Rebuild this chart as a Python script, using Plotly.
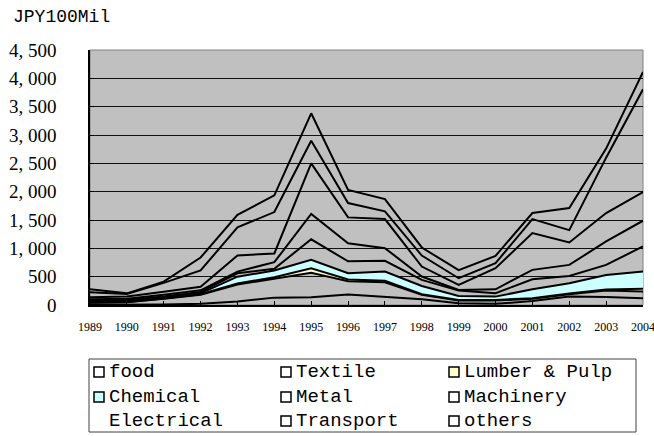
import plotly.graph_objects as go

years = list(range(1989, 2005))
year_labels = [str(y) for y in years]

# stacked values (JPY 100 million), bottom to top
food       = [5, 5, 10, 20, 60, 130, 136, 185, 140, 100, 30, 20, 70, 150, 140, 120]
textile    = [35, 45, 100, 160, 300, 340, 434, 235, 260, 80, 50, 60, 40, 40, 115, 120]
lumber     = [5, 5, 5, 10, 20, 20, 78, 30, 30, 10, 10, 10, 10, 15, 20, 45]
chemical   = [15, 15, 15, 16, 120, 118, 149, 110, 160, 146, 69, 58, 157, 179, 256, 305]
metal      = [20, 20, 20, 24, 60, 32, 363, 210, 189, 107, 95, 59, 177, 129, 177, 443]
machinery  = [20, 20, 30, 30, 30, 115, 446, 320, 224, 59, 12, 70, 166, 195, 413, 454]
electrical = [36, 40, 55, 63, 283, 154, 894, 456, 513, 177, 88, 372, 649, 395, 502, 507]
transport  = [88, 45, 155, 287, 496, 731, 400, 254, 136, 194, 118, 89, 247, 219, 977, 1812]
others     = [53, 11, 21, 228, 221, 295, 483, 230, 218, 142, 142, 129, 107, 389, 160, 306]

y_ticks = [0, 500, 1000, 1500, 2000, 2500, 3000, 3500, 4000, 4500]
y_ticklabels = ["0", "500", "1, 000", "1, 500", "2, 000", "2, 500", "3, 000", "3, 500", "4, 000", "4, 500"]

names = ["food", "Textile", "Lumber & Pulp", "Chemical", "Metal", "Machinery",
         "Electrical", "Transport", "others"]
values = [food, textile, lumber, chemical, metal, machinery, electrical, transport, others]
CLEAR = "rgba(0,0,0,0)"
fills = [CLEAR, CLEAR, "#FFFFCC", "#CCFFFF", CLEAR, CLEAR, CLEAR, CLEAR, CLEAR]
legend_marker = ["#FFFFFF", "#FFFFFF", "#FFFFCC", "#CCFFFF", "#FFFFFF", "#FFFFFF",
                 None, "#FFFFFF", "#FFFFFF"]

fig = go.Figure()
for n, v, fc in zip(names, values, fills):
    fig.add_trace(go.Scatter(
        x=years, y=v, name=n, stackgroup="one", mode="lines",
        line=dict(color="black", width=2), fillcolor=fc, showlegend=False,
    ))

# pixel -> paper helpers for the hand-drawn legend
L, R, T, B = 90, 643, 50, 305
def xp(px):
    return (px - L) / (R - L)
def yp(py):
    return (B - py) / (B - T)

shapes = [
    dict(type="rect", xref="paper", yref="paper", x0=0, x1=1, y0=0, y1=1,
         line=dict(color="#808080", width=1), layer="below"),
    dict(type="rect", xref="paper", yref="paper", x0=xp(89), x1=xp(636),
         y0=yp(432), y1=yp(359), line=dict(color="#404040", width=1),
         fillcolor="white", layer="below"),
]
annotations = [
    dict(text="JPY100Mil", xref="paper", yref="paper", x=xp(11), y=yp(17),
         xanchor="left", yanchor="middle", showarrow=False,
         font=dict(family="Liberation Mono", size=18, color="black")),
]
col_marker = [94, 281, 449]
col_text = [107, 294, 462]
row_y = [372, 397, 421]
for i, (n, mc) in enumerate(zip(names, legend_marker)):
    r, c = divmod(i, 3)
    cy = row_y[r]
    if mc is not None:
        shapes.append(dict(type="rect", xref="paper", yref="paper",
                           x0=xp(col_marker[c]), x1=xp(col_marker[c] + 10),
                           y0=yp(cy + 5), y1=yp(cy - 5),
                           line=dict(color="black", width=1.5), fillcolor=mc))
    annotations.append(dict(text=n, xref="paper", yref="paper",
                            x=xp(col_text[c]), y=yp(cy), xanchor="left", yanchor="middle",
                            showarrow=False,
                            font=dict(family="Liberation Mono", size=19, color="black")))

fig.update_layout(
    width=654, height=436,
    margin=dict(l=L, r=654 - R, t=T, b=436 - B, autoexpand=False),
    paper_bgcolor="white", plot_bgcolor="#C0C0C0",
    showlegend=False,
    shapes=shapes, annotations=annotations,
    xaxis=dict(range=[1989, 2004], tickvals=years, ticktext=year_labels,
               ticks="inside", ticklen=4, tickcolor="black",
               showline=True, linecolor="black", linewidth=1.5,
               showgrid=False, zeroline=False, automargin=False,
               ticklabeloverflow="allow",
               tickfont=dict(family="Liberation Serif", size=12, color="black"),
               ticklabelstandoff=10),
    yaxis=dict(range=[0, 4500], tickvals=y_ticks, ticktext=y_ticklabels,
               ticks="inside", ticklen=4, tickcolor="black",
               showline=True, linecolor="black", linewidth=1.5,
               showgrid=True, gridcolor="#111111", gridwidth=1, zeroline=False,
               automargin=False, ticklabeloverflow="allow",
               tickfont=dict(family="Liberation Serif", size=19, color="black"),
               ticklabelstandoff=28),
)

fig.write_html("out.html", config={"displayModeBar": False},
               post_script="document.body.style.margin='0';document.body.style.overflow='hidden';")
